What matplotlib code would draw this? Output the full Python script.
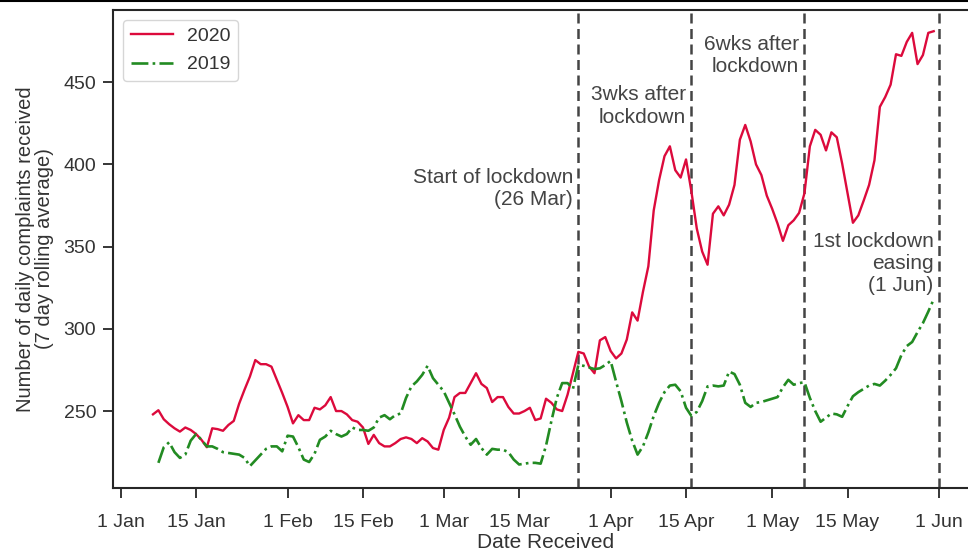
import numpy as np
import pandas as pd
import matplotlib
matplotlib.use("Agg")
import matplotlib.pyplot as plt
import matplotlib.dates as mdates
from matplotlib.lines import Line2D

# ---- data ----
start_2020 = "2020-01-07"
values_2020 = [
    248, 250.5, 245, 242, 239.5, 237.5, 240, 238.5, 236, 232.5,          # Jan 7-16
    228, 239.5, 239, 238, 241.5, 244, 254.5, 263, 271, 281,              # Jan 17-26
    278.5, 278.5, 277, 269, 261, 252.5, 242.5, 247.5, 244.5, 244.5,      # Jan 27-Feb 5
    252, 251, 253.5, 258.5, 250, 250, 248, 244.5, 243.5, 240,            # Feb 6-15
    230, 235.5, 230.5, 228.5, 228.5, 230.5, 233, 234, 233, 230.5,        # Feb 16-25
    233.5, 231.5, 227.5, 226.5, 238.5, 246, 258.5, 261, 261, 267,        # Feb 26-Mar 6
    273, 266.5, 264, 255.5, 258.5, 258.5, 252.5, 248.5, 248.5, 250,      # Mar 7-16
    252, 244.5, 245.5, 257.5, 255, 251, 250, 260, 273, 286,              # Mar 17-26
    285, 277, 273, 293, 295, 286.5, 282, 285, 293.5, 310,                # Mar 27-Apr 5
    305, 322.5, 338, 372, 390.5, 405, 411, 396.5, 392, 403,              # Apr 6-15
    383.5, 361, 347, 339, 370, 374.5, 369, 375.5, 387.5, 415,            # Apr 16-25
    424, 414, 400, 393.5, 381, 373, 364, 353.5, 363, 366,                # Apr 26-May 5
    370.5, 382.5, 411, 421, 418, 408.5, 419.5, 416.5, 400.5, 382.5,      # May 6-15
    364.5, 369, 378, 387.5, 402.5, 435, 441, 448.5, 467, 466,            # May 16-25
    474.5, 480, 461, 466.5, 480, 481,                                    # May 26-31
]
start_2019 = "2020-01-08"
values_2019 = [
    218.5, 228, 231, 225, 221.5, 223.5, 232, 236, 232.5, 228.5,          # Jan 8-17
    228.5, 227, 225, 224.5, 224, 223.5, 221.5, 216.5, 220, 223.5,        # Jan 18-27
    227, 228.5, 228.5, 225.5, 235, 234.5, 228, 220.5, 219, 224,          # Jan 28-Feb 6
    232.5, 234.5, 238, 236, 234.5, 236, 240, 238.5, 238.5, 238,          # Feb 7-16
    240, 246, 247.5, 245, 247.5, 248.5, 258, 265, 268, 272,              # Feb 17-26
    277.5, 270, 266, 262, 255, 248, 240.5, 234.5, 229.5, 233,            # Feb 27-Mar 7
    227.5, 223.5, 227, 226.5, 226.5, 225, 220.5, 217.5, 218, 218.5,      # Mar 8-17
    218.5, 218, 229, 244, 258, 267, 267, 263.5, 278, 277.5,              # Mar 18-27
    276.5, 275.5, 276, 278, 280.5, 268, 256, 243, 232, 223.5,            # Mar 28-Apr 6
    228.5, 237, 247, 255, 261.5, 265.5, 266, 262, 252, 247,              # Apr 7-16
    249.5, 256, 265, 265.5, 265, 265.5, 274, 272.5, 266, 255,            # Apr 17-26
    252.5, 255, 255.5, 256.5, 257.5, 258.5, 264.5, 269, 266, 267,        # Apr 27-May 6
    267.5, 258, 250, 243.5, 246, 248.5, 248, 246.5, 253, 259,            # May 7-16
    261.5, 263.5, 265.5, 266.5, 265.5, 268.5, 272, 276, 284, 289.5,      # May 17-26
    292, 298, 303.5, 310.5, 318,                                         # May 27-31
]
event_dates = ["2020-03-26", "2020-04-16", "2020-05-07", "2020-06-01"]
event_labels = ["Start of lockdown\n(26 Mar)", "3wks after\nlockdown",
                "6wks after\nlockdown", "1st lockdown\neasing\n(1 Jun)"]
event_label_y = [398, 448, 479, 359]
tick_dates = ["2020-01-01", "2020-01-15", "2020-02-01", "2020-02-15", "2020-03-01",
              "2020-03-15", "2020-04-01", "2020-04-15", "2020-05-01", "2020-05-15",
              "2020-06-01"]
tick_labels = ["1 Jan", "15 Jan", "1 Feb", "15 Feb", "1 Mar", "15 Mar",
               "1 Apr", "15 Apr", "1 May", "15 May", "1 Jun"]
yticks = [250, 300, 350, 400, 450]

dates_2020 = pd.date_range(start_2020, periods=len(values_2020), freq="D")
dates_2019 = pd.date_range(start_2019, periods=len(values_2019), freq="D")

# ---- style ----
plt.rcParams["font.family"] = ["Liberation Sans", "DejaVu Sans"]
TXT = "#333333"

fig = plt.figure(figsize=(9.68, 5.54), dpi=100)
W, H = 968, 554
ax = fig.add_axes([113 / W, 66 / H, 865 / W, 478 / H])

ax.plot(dates_2020, values_2020, color="#dc0a3c", lw=1.7, label="2020", zorder=3)
ax.plot(dates_2019, values_2019, color="#228b22", lw=1.9, ls="-.", label="2019", zorder=3)

for d, lab, yv in zip(event_dates, event_labels, event_label_y):
    dt = pd.Timestamp(d)
    ax.axvline(dt, color="#444444", lw=1.8, ls=(0, (4, 2.2)), zorder=2)
    ax.text(dt - pd.Timedelta(days=1.0), yv, lab, ha="right", va="top",
            color="#444444", fontsize=15, linespacing=1.22, zorder=4)

x0 = pd.Timestamp("2020-01-01") - pd.Timedelta(days=1.43)
x1 = x0 + pd.Timedelta(days=160.66)
ax.set_xlim(x0, x1)
ax.set_ylim(203.2, 493.9)

ax.set_xticks(pd.to_datetime(tick_dates))
ax.set_xticklabels(tick_labels)
ax.set_yticks(yticks)

for s in ax.spines.values():
    s.set_color("#262626")
    s.set_linewidth(1.5)
ax.tick_params(axis="both", direction="out", length=7, width=1.3,
               color="#262626", labelcolor=TXT, labelsize=14)
ax.tick_params(axis="x", pad=11.5)
ax.tick_params(axis="y", pad=5)

ax.set_xlabel("Date Received", color=TXT, fontsize=15, labelpad=2)
ax.set_ylabel("Number of daily complaints received\n(7 day rolling average)",
              color=TXT, fontsize=14.5, labelpad=7, linespacing=1.0)

leg = ax.legend(loc="upper left", fontsize=14, frameon=True, fancybox=True,
                borderpad=0.4, handlelength=2.2, handletextpad=0.7,
                labelspacing=0.55, borderaxespad=0.5)
leg.get_frame().set_edgecolor("#cccccc")
leg.get_frame().set_linewidth(1.0)
for t in leg.get_texts():
    t.set_color(TXT)

# thin border line along the very top of the image
fig.add_artist(Line2D([0, 1], [1 - 1.2 / H, 1 - 1.2 / H], transform=fig.transFigure,
                      color="black", lw=1.5))

fig.savefig("out.png", dpi=100)
